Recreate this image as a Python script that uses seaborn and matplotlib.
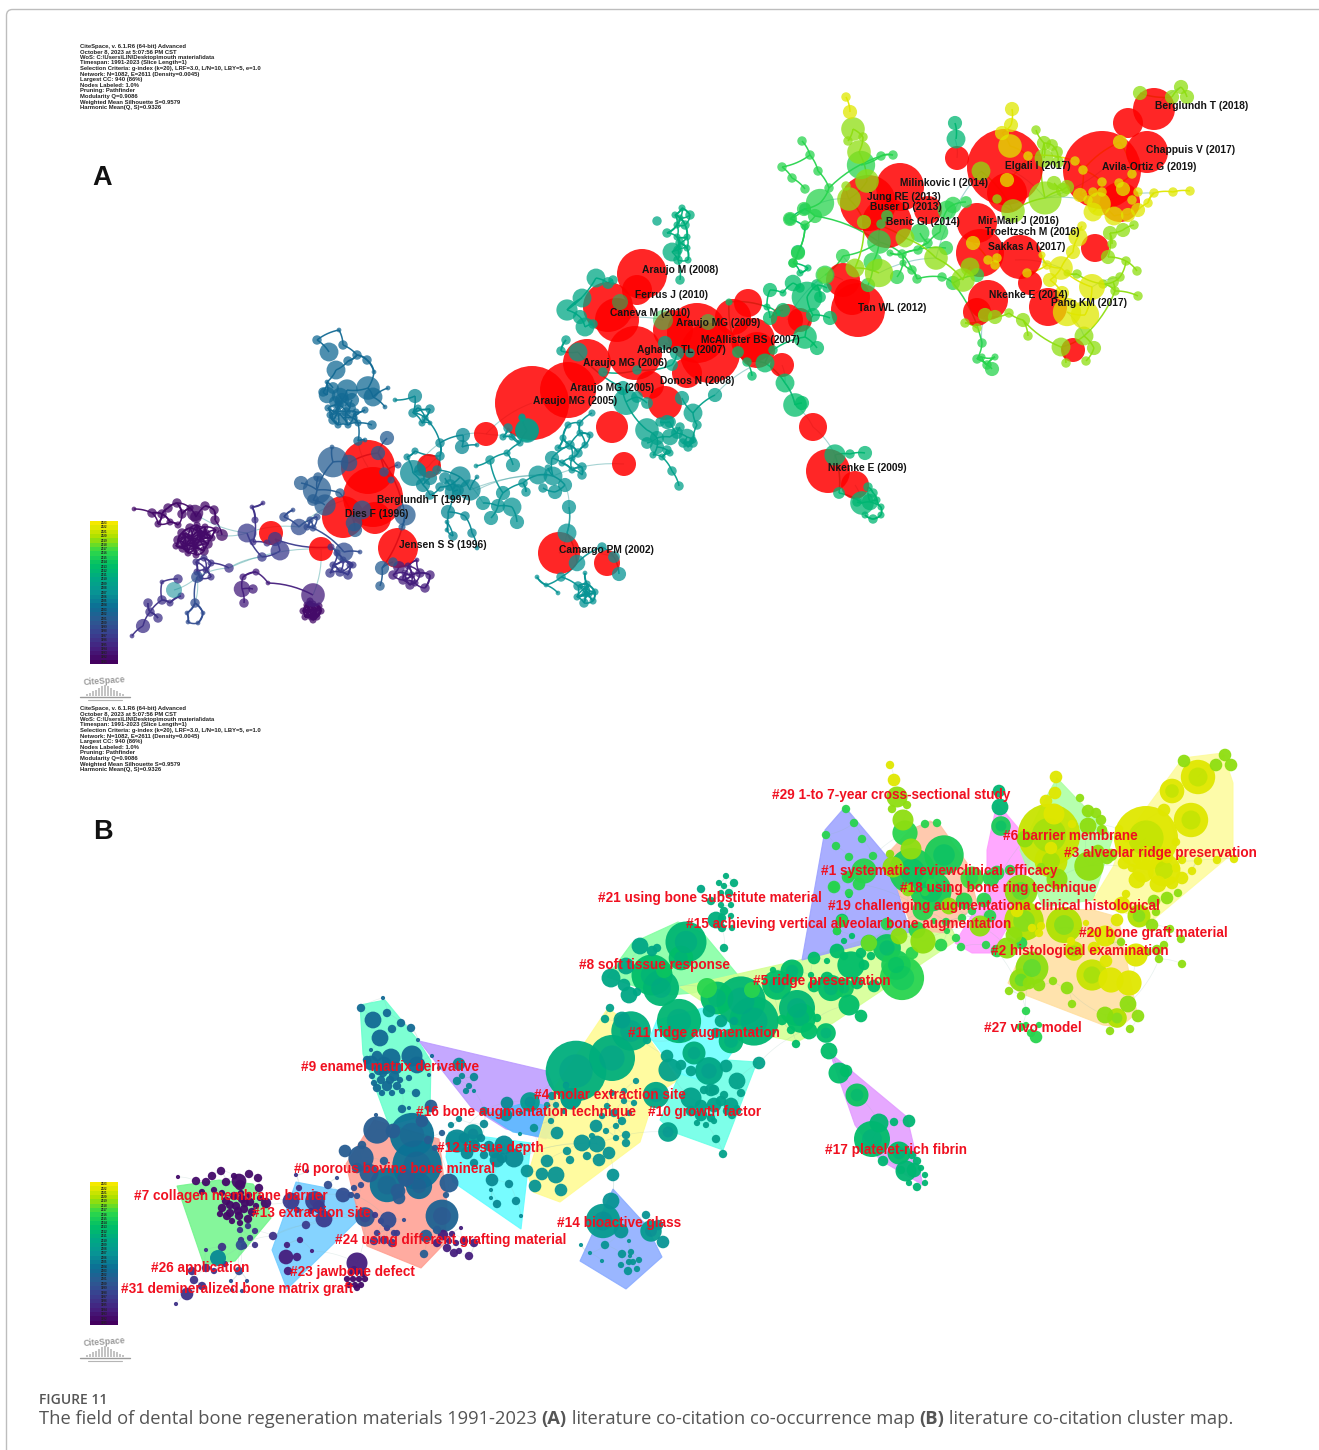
#!/usr/bin/env python3
"""Literature co-citation map (A) and cluster map (B), CiteSpace style."""

import numpy as np
import pandas as pd
import matplotlib
matplotlib.use("Agg")
import matplotlib.pyplot as plt
from matplotlib.collections import LineCollection
from matplotlib.colors import LinearSegmentedColormap, Normalize
from matplotlib.patches import FancyBboxPatch, Polygon
import seaborn as sns

# ====== DATA: node layout as (x, y, radius) ======
purple_tangle = [(134,509,2),(152,513,4),(162,514,4),(168,508,4),(177,503,4),(182,514,4),(170,522,3),
                 (178,525,3),(158,524,3),(190,508,3),(196,517,5),(205,506,4),(214,510,4),(215,520,4),
                 (222,535,5),(195,513,7)]
purple_knot = [(178,540,4),(182,533,4),(186,545,4),(190,528,4),(192,538,4),(195,548,4),(198,531,4),(200,541,4),
               (204,551,4),(206,534,4),(208,544,4),(183,548,4),(176,546,3),(212,538,3),(188,553,3),(196,555,3),
               (205,527,3),(216,530,3),(197,525,3),(186,537,4),(194,543,4),(201,535,4)]
purple_bottom = [(307,605,3),(313,604,3),(319,606,3),(303,611,3),(309,611,3),(315,611,3),(321,611,3),(305,617,3),
                 (311,617,3),(317,617,3),(313,620,3),(310,601,3)]
mauve_cage = [(242,589,7),(243,577,3),(256,572,3),(268,583,2),(253,589,4),(244,603,4),(399,567,5),(408,566,3),
              (412,575,3),(403,580,4),(420,573,4),(430,575,4),(425,588,4),(410,585,4),(417,560,2),(393,575,4),
              (405,573,3),(415,583,3),(313,595,10)]
violet_mid = [(196,562,3),(204,558,3),(211,563,3),(197,572,3),(206,570,3),(211,577,3),(200,578,3),(229,568,4),
              (132,636,2),(143,626,6),(150,612,4),(162,600,4),(158,618,4),(170,603,3),(181,596,3),(162,582,2),
              (178,579,4),(148,603,4),(263,503,2),(252,507,2),(255,520,3),(253,542,3),(267,543,3)]
violet_knot = [(331,547,3),(337,553,3),(343,560,3),(350,565,3),(333,565,3),(330,573,4),(340,572,4),(348,575,4),
               (353,565,3),(275,539,6),(280,551,8),(262,557,4),(247,533,8)]
blue_small = [(195,603,4),(187,613,2),(203,613,2),(198,623,2),(188,622,2),(197,577,5),(284,517,4),(299,527,7),
              (293,510,2),(310,520,3),(317,517,3),(307,527,3),(313,528,3),(344,552,8),(360,552,2)]
blue_core = [(301,483,6),(317,490,12),(333,462,13),(349,463,7),(378,453,6),(387,438,6),(313,500,5),(318,477,4),
             (332,447,2),(340,493,4),(405,515,9),(384,472,4),(391,480,3),(398,465,3),(382,568,6),(380,586,4),
             (402,527,3),(354,523,7),(393,562,4),(325,505,9),(362,510,8),(355,530,6)]
steel_top = [(317,340,4),(339,330,2),(329,352,8),(343,345,4),(357,355,4),(348,361,4),(367,360,4),(336,370,8),
             (374,372,2),(368,388,10),(347,390,9),(373,397,8),(327,382,2),(327,395,7),(333,388,5),(342,400,6),
             (350,408,5),(337,412,4),(328,408,3),(333,420,4),(343,418,5),(353,418,4),(338,425,3),(348,425,3),
             (358,423,3),(372,425,4),(385,407,2),(388,388,2),(365,410,3),(358,441,4),(365,440,2),(339,405,4),(323,392,4),
             (340,396,7),(352,400,6),(335,402,5),(346,412,4),(330,415,3),(356,412,3)]
teal_left = [(415,396,6),(395,400,2),(413,413,4),(430,409,4),(418,408,3),(425,418,3),(422,423,3),(430,423,2),
             (440,443,4),(463,435,6),(462,447,6),(440,456,4),(477,445,2),(415,451,3),(407,457,3),(413,473,11),
             (423,485,6),(437,470,4),(460,477,9),(470,490,9),(450,485,5),(453,492,7),(477,477,2),(440,487,4),
             (430,495,4),(448,512,6),(465,516,4),(472,533,4),(477,548,2),(447,522,2),(453,536,4),(447,530,2),
             (445,478,5),(430,478,6),(420,470,5),(458,490,5)]
teal_mid = [(483,503,6),(498,506,6),(512,507,8),(491,518,6),(517,522,6),(503,493,6),(523,483,4),(526,492,4),
            (538,475,8),(553,476,8),(565,485,6),(555,492,6),(543,488,4),(552,458,6),(570,445,4),(563,438,3),
            (580,433,3),(568,425,3),(578,453,4),(562,463,3),(572,470,3),(582,467,4),(582,475,4),(580,423,3),
            (592,413,3),(590,435,3),(490,460,4),(507,453,3),(513,465,6),(476,466,2),(520,443,3),(527,431,10),
            (508,428,4),(522,417,3),(503,437,3),(512,437,3),(558,448,3),(572,458,3),(548,468,3),(585,445,3)]
teal_camargo = [(569,507,6),(567,533,8),(577,563,7),(602,547,4),(614,557,5),(619,574,6),(561,577,4),(546,585,2),
                (537,577,2),(558,593,2),(578,586,4),(587,584,3),(595,592,3),(585,594,3),(577,597,3),(593,601,3),
                (584,603,4),(589,594,3),(586,588,2),(585,573,2)]
seagreen_core = [(647,430,10),(657,438,6),(670,437,7),(647,443,5),(657,447,6),(667,450,4),(677,433,5),(687,437,7),
                 (693,440,3),(683,443,4),(688,447,4),(693,443,4),(653,455,3),(662,457,3),(670,453,3),(672,471,4),
                 (679,486,4),(670,422,5),(680,427,4),(697,425,4),(660,422,4),(693,413,8),(715,395,6),(682,398,6),
                 (667,422,6),(626,402,11),(623,388,6),(637,397,5),(647,403,5),(527,430,10),(522,418,3),(578,352,8),
                 (561,351,4),(566,340,4)]
seagreen_top = [(596,278,8),(608,283,5),(567,310,9),(582,298,8),(580,317,6),(585,327,8),(593,324,4),(613,280,4),
                (665,343,6),(677,353,6),(690,353,4),(672,365,5),(637,370,4),(603,372,4),(657,221,4)]
green_knot = [(682,208,3),(675,215,3),(690,215,4),(680,218,3),(685,225,4),(677,225,3),(667,233,4),(687,237,3),
              (677,237,3),(680,243,4),(672,252,8),(678,250,4),(687,248,3),(688,260,3),(678,260,4),(680,280,4)]
green_link = [(747,362,4),(752,376,4),(765,363,8),(773,350,4),(738,352,5),(729,302,3),(767,307,3),(770,318,6),
              (777,313,3),(783,310,6),(805,337,10),(813,315,6),(817,348,6),(830,318,6),(785,383,8),(795,405,10),
              (802,403,6),(790,219,5),(805,209,5),(805,227,3),(798,252,6),(793,263,4),(808,268,3),(770,290,6),
              (783,293,3),(793,283,7),(807,297,13),(800,273,3),(817,285,5),(820,297,5),(827,288,4),(800,288,4)]
green_nkenke = [(835,455,9),(850,454,4),(865,453,6),(839,493,5),(862,503,10),(870,502,7),(868,487,4),(873,493,4),
                (881,507,3),(881,515,3),(873,519,4),(865,515,3),(857,502,4),(877,500,3),(955,123,6),(956,139,8)]
bright_zig = [(802,141,4),(810,155,4),(782,167,4),(792,178,4),(818,171,4),(805,189,4),(829,188,4),(820,203,12),
              (804,209,6),(790,219,6),(815,216,6),(805,225,4),(798,253,6),(793,263,4),(881,156,4),(893,155,4),
              (861,165,12),(879,242,10),(881,224,4),(887,216,5),(843,256,6),(825,275,8),(873,262,8),(902,254,4),
              (946,248,6),(918,250,4),(928,243,4),(920,233,8),(940,232,7),(947,210,8),(953,205,7),(966,202,5),
              (912,270,4),(917,279,4),(942,277,4),(953,283,6),(977,275,6),(903,263,3),(890,253,3),(868,285,6),
              (897,277,6),(982,343,4),(977,359,4),(987,365,4),(995,357,3),(992,369,6),(982,357,3)]
lime_mix = [(853,129,10),(863,137,4),(848,141,4),(859,152,10),(867,181,10),(849,199,10),(846,186,4),(864,222,6),
            (905,238,8),(855,268,8),(879,273,12),(936,258,10),(963,280,10),(970,267,8),(981,171,8),(1013,211,10),
            (1045,198,14),(1123,230,6),(1134,225,4),(1110,233,6),(1108,257,6),(1112,244,4),(1126,261,4),
            (1137,271,4),(1120,277,4),(1113,282,5),(1103,284,4),(1115,291,4),(1138,296,4),(1084,336,8),
            (1094,348,6),(1061,347,8),(1086,361,4),(1066,363,4),(1023,320,6),(1028,336,4),(1009,313,4),
            (995,317,6),(965,323,4),(977,328,4),(985,315,6),(1044,143,6),(1052,145,5),(1044,158,8),(1057,152,5),
            (1058,162,5),(1036,130,4),(1063,190,6),(1054,183,6),(1067,187,6),(997,199,4),(1172,97,6),(1140,93,6),
            (1181,87,6),(1187,97,6),(1077,274,4),(1067,273,3)]
yellow_mix = [(846,97,4),(850,112,6),(1012,109,6),(1011,125,6),(1002,133,6),(1010,146,10),(1028,156,4),(1007,180,6),
              (1075,161,4),(1083,170,4),(1120,142,6),(1132,174,4),(1102,182,4),(1119,183,4),(1123,189,6),
              (1080,195,6),(1093,192,4),(1102,192,4),(1099,204,10),(1088,200,4),(1114,216,8),(1093,212,8),
              (1128,215,6),(1132,200,4),(1138,210,6),(1138,192,4),(1148,203,4),(1154,193,4),(1173,192,4),
              (1190,191,4),(1092,287,11),(1061,268,10),(1085,315,12),(1067,312,12),(1073,252,6),(1078,237,8),
              (1082,226,4),(1050,280,6),(1062,293,6),(1047,265,4),(1042,255,3),(973,243,6),(988,260,4),
              (997,258,4),(995,265,4),(1027,273,4)]

# burst nodes, red in panel A: (x, y, radius, year shade)
burst_nodes = [(1154,109,21,2021),(1128,123,15,2021),(1147,152,21,2021),(1102,170,39,2021),(1120,202,20,2021),
               (1005,167,38,2020),(957,158,12,2014),(1007,193,20,2020),(900,187,24,2014),(868,203,28,2014),
               (887,223,25,2014),(928,210,14,2016),(977,223,20,2018),(980,253,24,2019),(1020,257,22,2019),
               (1095,248,14,2019),(988,300,20,2018),(977,312,14,2018),(1048,307,19,2020),(1030,283,12,2020),
               (1073,350,12,2019),(858,310,27,2015),(843,280,17,2013),(852,297,18,2014),
               (642,274,25,2011),(637,290,15,2012),(608,307,25,2012),(617,320,22,2011),(697,333,30,2011),
               (710,353,30,2011),(673,330,20,2012),(635,353,27,2011),(587,363,24,2010),(568,390,28,2010),
               (532,403,37,2010),(650,385,14,2010),(687,373,15,2011),(665,403,17,2009),(612,427,16,2009),
               (748,303,14,2012),(733,317,18,2012),(753,340,22,2011),(757,350,18,2012),(787,320,16,2012),
               (800,320,12,2013),(782,365,12,2012),(813,427,14,2013),(828,471,22,2012),(855,485,14,2012),
               (624,464,12,2008),(559,553,21,2007),(607,563,13,2007),(486,434,12,2007),(429,466,12,2006),
               (368,467,27,2003),(373,497,30,2003),(343,517,21,2003),(375,518,16,2002),(398,548,20,2001),
               (321,549,12,1999),(271,533,12,1997)]

# (cluster, shade year) pairs, drawn in this order
node_groups = [(purple_tangle,1992),(purple_knot,1992),(purple_bottom,1992),(mauve_cage,1994),(violet_mid,1996),
               (violet_knot,1997),(blue_small,1999),(blue_core,2001),(steel_top,2003),(teal_left,2006),
               (teal_mid,2007),(teal_camargo,2007),(seagreen_core,2009),(seagreen_top,2010),(green_knot,2011),
               (green_link,2013),(green_nkenke,2012),(bright_zig,2016),(lime_mix,2019),(yellow_mix,2022)]

# longer links between clusters
bridges = [(247,533,299,527),(247,533,197,515),(197,577,229,568),(229,568,321,549),(321,549,313,595),(229,568,262,557),
           (197,577,195,603),(197,577,174,590),(247,533,217,535),(299,527,345,500),(321,549,344,552),(413,473,440,443),
           (460,477,483,503),(477,490,538,475),(470,490,553,476),(553,476,624,464),(565,485,569,507),(569,507,567,533),
           (567,533,559,553),(559,553,614,557),(527,431,486,434),(463,435,486,434),(486,434,532,403),(368,467,358,441),
           (429,466,440,456),(429,466,413,473),(715,395,762,362),(747,362,738,352),(782,365,785,383),(785,383,795,405),
           (795,405,813,427),(813,427,835,455),(835,455,828,471),(855,485,862,503),(787,320,825,275),(825,275,843,280),
           (820,203,849,199),(855,268,843,256),(879,273,936,258),(955,139,957,158),(1005,167,1045,198),(1102,170,1045,198),
           (1045,198,1099,204),(1154,109,1181,87),(1099,204,1154,193),(1015,260,1061,268),(1092,287,1120,277),
           (1067,312,1084,336),(982,343,985,315),(617,320,663,320),(936,258,981,171)]

# ring-marked nodes sitting over the burst circles
olive_marks = [(620,302,8,2014),(663,320,10,2016),(708,322,8,2016),(825,275,8,2018),(174,590,8,2006)]

cite_labels = ["Berglundh T (2018)","Chappuis V (2017)","Avila-Ortiz G (2019)","Elgali I (2017)","Milinkovic I (2014)",
               "Jung RE (2013)","Buser D (2013)","Benic GI (2014)","Mir-Mari J (2016)","Troeltzsch M (2016)",
               "Sakkas A (2017)","Nkenke E (2014)","Pang KM (2017)","Tan WL (2012)","Araujo M (2008)","Ferrus J (2010)",
               "Caneva M (2010)","Araujo MG (2009)","McAllister BS (2007)","Aghaloo TL (2007)","Araujo MG (2006)",
               "Araujo MG (2005)","Donos N (2008)","Araujo MG (2005)","Nkenke E (2009)","Berglundh T (1997)",
               "Dies F (1996)","Jensen S S (1996)","Camargo PM (2002)"]
cite_x = [1155,1146,1102,1005,900,867,870,886,978,985,988,989,1051,858,642,635,610,676,701,637,583,570,660,533,828,377,345,399,559]
cite_y = [106,150,167,166,183,197,207,222,221,232,247,295,303,308,270,295,313,323,340,350,363,388,381,401,468,500,514,545,550]

cluster_labels = ["#29 1-to 7-year cross-sectional study","#6 barrier membrane","#3 alveolar ridge preservation",
                  "#1 systematic reviewclinical efficacy","#18 using bone ring technique",
                  "#21 using bone substitute material","#19 challenging augmentationa clinical histological",
                  "#15 achieving vertical alveolar bone augmentation","#20 bone graft material",
                  "#2 histological examination","#8 soft tissue response","#5 ridge preservation","#27 vivo model",
                  "#11 ridge augmentation","#9 enamel matrix derivative","#4 molar extraction site",
                  "#16 bone augmentation technique","#10 growth factor","#12 tissue depth","#17 platelet-rich fibrin",
                  "#0 porous bovine bone mineral","#7 collagen membrane barrier","#13 extraction site",
                  "#14 bioactive glass","#24 using different grafting material","#26 application","#23 jawbone defect",
                  "#31 demineralized bone matrix graft"]
cluster_x = [772,1003,1064,821,900,598,828,686,1079,991,579,753,984,628,301,534,416,648,437,825,294,134,252,557,335,151,290,121]
cluster_y = [795,836,853,871,888,898,906,924,933,951,965,981,1028,1033,1067,1095,1112,1112,1148,1150,1169,1196,1213,1223,1240,1268,1272,1289]

# cluster hulls in panel B, (colour, outline)
hulls = [
    ("#70f58a", [(177,1186),(219,1180),(253,1184),(267,1204),(271,1218),(235,1261),(204,1265)]),
    ("#70ccff", [(296,1182),(353,1193),(360,1218),(287,1289),(272,1250)]),
    ("#ff9d8f", [(374,1120),(439,1139),(447,1204),(445,1243),(421,1268),(367,1246),(353,1193),(346,1164)]),
    ("#66ffcc", [(360,1005),(385,1000),(417,1039),(431,1061),(430,1114),(389,1125),(363,1054)]),
    ("#bb99ff", [(419,1041),(547,1071),(560,1104),(546,1139),(506,1129),(471,1107)]),
    ("#5ffcff", [(449,1132),(531,1143),(521,1229),(453,1182),(446,1157)]),
    ("#55bbff", [(485,1114),(528,1102),(553,1107),(553,1139),(513,1132)]),
    ("#fffb90", [(608,1008),(650,1040),(678,1080),(655,1095),(640,1142),(560,1202),(533,1192),(528,1175),(553,1090)]),
    ("#88aaff", [(613,1189),(646,1225),(662,1257),(626,1289),(580,1261)]),
    ("#66ffe6", [(757,1062),(723,1150),(673,1132),(660,1120),(680,1073),(700,1080),(727,1060)]),
    ("#66ffff", [(657,1020),(650,1037),(677,1073),(700,1080),(727,1060),(740,1040),(740,1013),(703,1008)]),
    ("#80ffa0", [(678,922),(703,933),(742,980),(693,993),(670,995),(637,987),(607,977),(632,943)]),
    ("#e299ff", [(830,1053),(907,1117),(923,1185),(880,1160),(855,1125)]),
    ("#d4ff90", [(680,987),(800,960),(910,925),(950,925),(957,940),(887,987),(833,1023),(797,1042),(740,1030),(700,1000)]),
    ("#9aa0ff", [(845,807),(825,830),(802,960),(910,932),(888,858)]),
    ("#ff99ff", [(997,803),(1020,830),(1030,860),(1013,917),(993,953),(972,953),(955,943),(987,890),(987,850)]),
    ("#ffc0a0", [(910,830),(930,821),(940,825),(967,863),(977,903),(947,933),(913,930),(898,890),(888,853)]),
    ("#aaffa0", [(1057,778),(1113,837),(1093,900),(1043,907),(1020,850),(1043,803)]),
    ("#fdfb9a", [(1183,758),(1223,753),(1233,783),(1233,853),(1153,920),(1113,910),(1093,900),(1113,867),(1123,840)]),
    ("#ffdf9f", [(1093,910),(1118,917),(1137,1013),(1120,1027),(1103,1025),(1020,993),(1008,983),(1020,957),(1013,907)]),
]

info_lines = ["CiteSpace, v. 6.1.R6 (64-bit) Advanced", "October 8, 2023 at 5:07:56 PM CST",
              "WoS: C:\\Users\\LIN\\Desktop\\mouth material\\data", "Timespan: 1991-2023 (Slice Length=1)",
              "Selection Criteria: g-index (k=20), LRF=3.0, L/N=10, LBY=5, e=1.0",
              "Network: N=1082, E=2611 (Density=0.0045)", "Largest CC: 940 (86%)", "Nodes Labeled: 1.0%",
              "Pruning: Pathfinder", "Modularity Q=0.9086", "Weighted Mean Silhouette S=0.9579",
              "Harmonic Mean(Q, S)=0.9326"]
years = list(range(2023, 1990, -1))
logo_bars = [2, 3, 5, 6, 8, 10, 11, 10, 8, 6, 5, 3, 2]

# ====== SETUP ======
sns.set_theme(style="white")
plt.rcParams["font.family"] = ["Liberation Sans", "DejaVu Sans"]
W, H = 1319, 1450
B_DX, B_DY = 44, 668   # panel B repeats the layout shifted down the page

year_cmap = LinearSegmentedColormap.from_list("citespace", [
    "#44005f", "#45207f", "#3a3f8f", "#2b5a92", "#0c6f95", "#089494",
    "#00a884", "#00bf66", "#2fd84a", "#a8e000", "#f5e900"])
year_norm = Normalize(1991, 2023)

node_rows = [(x, y, r, yr) for group, yr in node_groups for x, y, r in group]
nodes = pd.DataFrame(node_rows, columns=["x", "y", "r", "year"])
bursts = pd.DataFrame(burst_nodes, columns=["x", "y", "r", "year"])
marks = pd.DataFrame(olive_marks, columns=["x", "y", "r", "year"])


def curve(x0, y0, x1, y1, bend=0.12):
    t = np.linspace(0, 1, 9)[:, None]
    p0, p1 = np.array([x0, y0]), np.array([x1, y1])
    mid = (p0 + p1) / 2 + bend * np.array([y1 - y0, x0 - x1])
    return (1 - t) ** 2 * p0 + 2 * t * (1 - t) * mid + t ** 2 * p1


def build_edges():
    segs, cols = [], []
    for group, yr in node_groups:
        pts = np.array(group, dtype=float)
        col = year_cmap(year_norm(yr))
        for i in range(1, len(pts)):
            d = np.hypot(*(pts[:i, :2] - pts[i, :2]).T)
            j = int(np.argmin(d))
            if d[j] < 70:
                segs.append(curve(*pts[j, :2], *pts[i, :2]))
                cols.append(col)
            # small nodes sitting close together form the tangled cages
            for k in np.where((d < 14) & (pts[:i, 2] <= 4) & (pts[i, 2] <= 4))[0]:
                segs.append(curve(*pts[k, :2], *pts[i, :2], bend=0.2))
                cols.append(col)
    return segs, cols


def draw_scatter(ax, df, alpha):
    sizes = {r: (2 * r * 0.72) ** 2 for r in df["r"].unique()}
    sns.scatterplot(data=df, x="x", y="y", hue="year", hue_norm=year_norm, palette=year_cmap,
                    size="r", sizes=sizes, alpha=alpha, linewidth=0, legend=False, ax=ax, zorder=3)


def full_axes(xlim, ylim, zorder):
    ax = fig.add_axes([0, 0, 1, 1], zorder=zorder)
    ax.set_xlim(*xlim)
    ax.set_ylim(*ylim)
    ax.axis("off")
    ax.patch.set_alpha(0)
    return ax


fig = plt.figure(figsize=(W / 100, H / 100), dpi=100, facecolor="white")
page = full_axes((0, W), (H, 0), 0)
net_a = full_axes((0, W), (H, 0), 1)
net_b = full_axes((-B_DX, W - B_DX), (H - B_DY, -B_DY), 1)
top = full_axes((0, W), (H, 0), 5)

# page frame
page.add_patch(FancyBboxPatch((6.5, 9.5), 1500, 1600, boxstyle="round,pad=0,rounding_size=6",
                              fc="none", ec="#bdbdbd", lw=1))

# hulls of panel B
for colour, outline in hulls:
    page.add_patch(Polygon(outline, closed=True, fc=colour, ec=colour, alpha=0.85, lw=0.8))

# ====== EDGES ======
edge_segs, edge_cols = build_edges()
bridge_segs = [curve(*b) for b in bridges]
net_a.add_collection(LineCollection(edge_segs, colors=edge_cols, linewidths=1.1, alpha=0.95, zorder=1))
net_a.add_collection(LineCollection(bridge_segs, colors="#4fa8a8", linewidths=0.8, alpha=0.5, zorder=1))
net_b.add_collection(LineCollection(edge_segs + bridge_segs, colors="#8fb8b0", linewidths=0.5, alpha=0.22, zorder=1))

# ====== PANEL A: bursts in red ======
sns.scatterplot(data=bursts, x="x", y="y", size="r", sizes={r: (2 * r * 0.72) ** 2 for r in bursts["r"].unique()},
                color="#ff0000", alpha=0.85, linewidth=0, legend=False, ax=net_a, zorder=2)
draw_scatter(net_a, nodes.assign(r=(nodes["r"] * 1.18).round(2)), 0.75)
draw_scatter(net_a, marks, 0.55)

# ====== PANEL B: same nodes, bursts as tree rings ======
outer = bursts.assign(r=(bursts["r"] * 0.82).round(1), year=bursts["year"] + 1)
inner = bursts.assign(r=(bursts["r"] * 0.45).round(1), year=bursts["year"] - 1)
draw_scatter(net_b, outer, 0.95)
draw_scatter(net_b, inner, 0.55)
draw_scatter(net_b, nodes.assign(r=(nodes["r"] * 1.05).round(2)), 0.95)
draw_scatter(net_b, marks, 0.95)

# ====== TEXT ======
for label, x, y in zip(cite_labels, cite_x, cite_y):
    top.text(x, y, label, fontsize=7.35, fontweight="bold", color="#141414", va="center", ha="left")
for label, x, y in zip(cluster_labels, cluster_x, cluster_y):
    top.text(x, y, label, fontsize=9.85, fontweight="bold", color="#f01020", va="center", ha="left")

top.text(92, 178, "A", fontsize=19.5, fontweight="bold", color="#111111", va="center", ha="left")
top.text(93, 832, "B", fontsize=19.5, fontweight="bold", color="#111111", va="center", ha="left")

for y0 in (46, 708):
    for i, line in enumerate(info_lines):
        top.text(80, y0 + i * 5.6, line, fontsize=4.2, fontweight="bold", color="#222222", va="center", ha="left")

# ====== COLOUR LEGENDS AND LOGOS ======
for y0 in (521, 1182):
    cax = fig.add_axes([90 / W, 1 - (y0 + 143) / H, 28 / W, 143 / H], zorder=4)
    sns.heatmap(np.array(years).reshape(-1, 1), cmap=year_cmap, norm=year_norm, cbar=False, annot=True, fmt="d",
                annot_kws={"fontsize": 2.2, "color": "#222222", "fontweight": "bold"},
                xticklabels=False, yticklabels=False, ax=cax)
    cax.set_xlabel("")
    cax.set_ylabel("")
    logo_y = y0 + 173
    top.text(104.5, y0 + 160, "CiteSpace", fontsize=6.2, fontweight="bold", color="#9a9a9a",
             ha="center", va="center", rotation=4)
    bar_x = 105 + (np.arange(len(logo_bars)) - len(logo_bars) // 2) * 3
    top.bar(bar_x, logo_bars, width=2.9, bottom=logo_y + 2 - np.array(logo_bars), color="#c4c4c4", lw=0)
    top.plot([80, 130], [logo_y + 3, logo_y + 3], color="#9a9a9a", lw=1.0)
    top.plot([88, 122], [logo_y + 5.5, logo_y + 5.5], color="#b5b5b5", lw=0.8)
top.set_xlim(0, W)
top.set_ylim(H, 0)
net_a.set_xlim(0, W)
net_a.set_ylim(H, 0)
net_b.set_xlim(-B_DX, W - B_DX)
net_b.set_ylim(H - B_DY, -B_DY)
for ax in (net_a, net_b):
    ax.set_xlabel("")
    ax.set_ylabel("")

# ====== CAPTION ======
caption_font = ["Open Sans", "DejaVu Sans"]
top.text(39, 1400, "FIGURE 11", fontsize=10, fontweight="semibold", family=caption_font, color="#555555",
         va="center", ha="left")
caption_parts = [("The field of dental bone regeneration materials 1991-2023 ", "normal"), ("(A)", "bold"),
                 (" literature co-citation co-occurrence map ", "normal"), ("(B)", "bold"),
                 (" literature co-citation cluster map.", "normal")]
renderer = fig.canvas.get_renderer()
cap_x = 39.0
for part, weight in caption_parts:
    t = top.text(cap_x, 1419, part.replace(" ", "\u00a0"), fontsize=13.28, fontweight=weight, family=caption_font,
                 color="#555555", va="center", ha="left")
    cap_x += t.get_window_extent(renderer).width

fig.savefig("out.png", dpi=100, facecolor="white")
print("saved out.png")
